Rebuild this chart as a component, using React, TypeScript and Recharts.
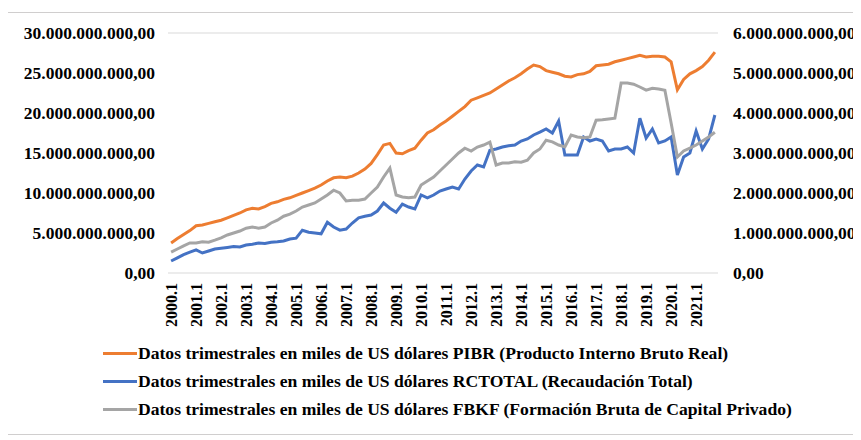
import React from "react";
import { LineChart, Line, XAxis, YAxis, CartesianGrid, Legend } from "recharts";

const years = [2000, 2001, 2002, 2003, 2004, 2005, 2006, 2007, 2008, 2009, 2010, 2011, 2012, 2013, 2014, 2015, 2016, 2017, 2018, 2019, 2020, 2021];
const quarterNums = [1, 2, 3, 4];

// PIBR, left axis (billions)
const pibr = [
  3.75, 4.3, 4.8, 5.3,
  5.9, 6.0, 6.2, 6.4,
  6.6, 6.9, 7.2, 7.5,
  7.9, 8.1, 8.0, 8.3,
  8.7, 8.9, 9.2, 9.4,
  9.7, 10.0, 10.3, 10.6,
  11.0, 11.5, 11.9, 12.0,
  11.9, 12.1, 12.5, 13.0,
  13.7, 14.8, 16.0, 16.2,
  15.0, 14.9, 15.3, 15.6,
  16.6, 17.5, 17.9, 18.5,
  19.0, 19.6, 20.2, 20.8,
  21.6, 21.9, 22.2, 22.5,
  23.0, 23.5, 24.0, 24.4,
  24.9, 25.5, 26.0, 25.8,
  25.3, 25.1, 24.9, 24.6,
  24.5, 24.8, 24.9, 25.2,
  25.9, 26.0, 26.1, 26.4,
  26.6, 26.8, 27.0, 27.2,
  27.0, 27.1, 27.1, 27.0,
  26.4, 22.9, 24.2, 24.9,
  25.3, 25.8, 26.6, 27.6,
];

// RCTOTAL, right axis (billions)
const rctotal = [
  0.3, 0.38, 0.46, 0.52,
  0.58, 0.5, 0.55, 0.6,
  0.62, 0.64, 0.66, 0.65,
  0.7, 0.72, 0.75, 0.74,
  0.77, 0.78, 0.8, 0.85,
  0.87, 1.07, 1.02, 1.0,
  0.98, 1.27, 1.15, 1.07,
  1.1, 1.25, 1.38, 1.42,
  1.45, 1.55, 1.75, 1.62,
  1.52, 1.72, 1.65, 1.6,
  1.95, 1.88, 1.95, 2.05,
  2.1, 2.15, 2.1, 2.35,
  2.55, 2.7, 2.65, 3.07,
  3.1, 3.15, 3.18, 3.2,
  3.3, 3.35, 3.45, 3.52,
  3.6, 3.5, 3.8, 2.95,
  2.95, 2.95, 3.4, 3.3,
  3.35, 3.3, 3.05, 3.1,
  3.1, 3.15, 3.0, 3.87,
  3.37, 3.6, 3.25, 3.3,
  3.4, 2.45, 2.9, 3.0,
  3.55, 3.1, 3.35, 3.95,
];

// FBKF, right axis (billions)
const fbkf = [
  0.52, 0.6, 0.68, 0.75,
  0.75, 0.78, 0.77, 0.82,
  0.88, 0.95, 1.0, 1.05,
  1.12, 1.15, 1.12, 1.15,
  1.25, 1.32, 1.42, 1.47,
  1.55, 1.65, 1.7, 1.75,
  1.85, 1.95, 2.07, 2.0,
  1.8, 1.82, 1.82, 1.85,
  2.0, 2.15, 2.4, 2.62,
  1.95, 1.9, 1.88, 1.9,
  2.2, 2.3, 2.4, 2.55,
  2.7, 2.85, 3.0, 3.12,
  3.05, 3.15, 3.2, 3.27,
  2.7, 2.75, 2.75, 2.78,
  2.77, 2.82, 3.0, 3.1,
  3.32, 3.28, 3.2, 3.15,
  3.45, 3.4, 3.38, 3.4,
  3.82, 3.83, 3.85, 3.87,
  4.75, 4.75, 4.72, 4.65,
  4.57, 4.62, 4.6, 4.57,
  3.75, 2.9, 3.05, 3.12,
  3.2, 3.3, 3.4, 3.52,
];

const leftTicks = [0, 5, 10, 15, 20, 25, 30];
const rightTicks = [0, 1, 2, 3, 4, 5, 6];

const seriesNames = [
  "Datos trimestrales en miles de US dólares PIBR (Producto Interno Bruto Real)",
  "Datos trimestrales en miles de US dólares RCTOTAL (Recaudación Total)",
  "Datos trimestrales en miles de US dólares FBKF (Formación Bruta de Capital Privado)",
];
const colors = ["#ED7D31", "#4472C4", "#A5A5A5"];

const quarters: string[] = [];
years.forEach((y) => quarterNums.forEach((q) => quarters.push(`${y}.${q}`)));

const data = quarters.map((q, i) => ({
  q,
  pibr: pibr[i],
  rctotal: rctotal[i],
  fbkf: fbkf[i],
}));

const FONT = "'Liberation Serif', 'Times New Roman', serif";

function fmt(v: number): string {
  const n = Math.round(v * 1e9).toString();
  return n.replace(/\B(?=(\d{3})+(?!\d))/g, ".") + ",00";
}

const XTick = (props: any) => {
  const { x, y, payload } = props;
  return (
    <text
      x={x}
      y={y}
      transform={`rotate(-90, ${x}, ${y})`}
      textAnchor="end"
      dy="0.36em"
      fontFamily={FONT}
      fontWeight="bold"
      fontSize={16}
      fill="#000"
    >
      {payload.value}
    </text>
  );
};

const LegendContent = () => (
  <div style={{ paddingTop: 5, fontFamily: FONT, fontWeight: "bold", fontSize: 17.6, color: "#000" }}>
    {seriesNames.map((n, i) => (
      <div key={n} style={{ height: 28, display: "flex", alignItems: "center", whiteSpace: "nowrap" }}>
        <span style={{ display: "inline-block", width: 34, height: 3, background: colors[i], marginRight: 1 }} />
        <span>{n}</span>
      </div>
    ))}
  </div>
);

export default function App() {
  return (
    <div
      style={{
        width: 846,
        height: 421,
        border: "1px solid #D0CECE",
        marginTop: 4,
        marginLeft: -1,
        position: "relative",
        background: "#fff",
      }}
    >
      <LineChart width={846} height={421} data={data} margin={{ top: 20, right: 0, bottom: 0, left: 0 }}>
        <CartesianGrid vertical={false} stroke="#D9D9D9" strokeWidth={1} />
        <XAxis
          dataKey="q"
          interval={3}
          tick={<XTick />}
          tickLine={false}
          axisLine={false}
          height={61}
          tickSize={0}
          tickMargin={10}
          padding={{ left: 3.125, right: 3.125 }}
        />
        <YAxis
          yAxisId="left"
          orientation="left"
          domain={[0, 30]}
          ticks={leftTicks}
          tickFormatter={fmt}
          width={160}
          axisLine={false}
          tickLine={false}
          tickSize={0}
          tickMargin={13}
          tick={{ fontFamily: FONT, fontWeight: "bold", fontSize: 17.5, fill: "#000" }}
        />
        <YAxis
          yAxisId="right"
          orientation="right"
          domain={[0, 6]}
          ticks={rightTicks}
          tickFormatter={fmt}
          width={136}
          axisLine={false}
          tickLine={false}
          tickSize={0}
          tickMargin={15}
          tick={{ fontFamily: FONT, fontWeight: "bold", fontSize: 17.5, fill: "#000", textAnchor: "start" }}
        />
        <Legend
          verticalAlign="bottom"
          height={100}
          content={<LegendContent />}
          wrapperStyle={{ left: 95, width: "auto" }}
        />
        <Line yAxisId="left" type="linear" dataKey="pibr" name={seriesNames[0]} stroke={colors[0]} strokeWidth={3} dot={false} isAnimationActive={false} />
        <Line yAxisId="right" type="linear" dataKey="rctotal" name={seriesNames[1]} stroke={colors[1]} strokeWidth={3} dot={false} isAnimationActive={false} />
        <Line yAxisId="right" type="linear" dataKey="fbkf" name={seriesNames[2]} stroke={colors[2]} strokeWidth={3} dot={false} isAnimationActive={false} />
      </LineChart>
    </div>
  );
}
